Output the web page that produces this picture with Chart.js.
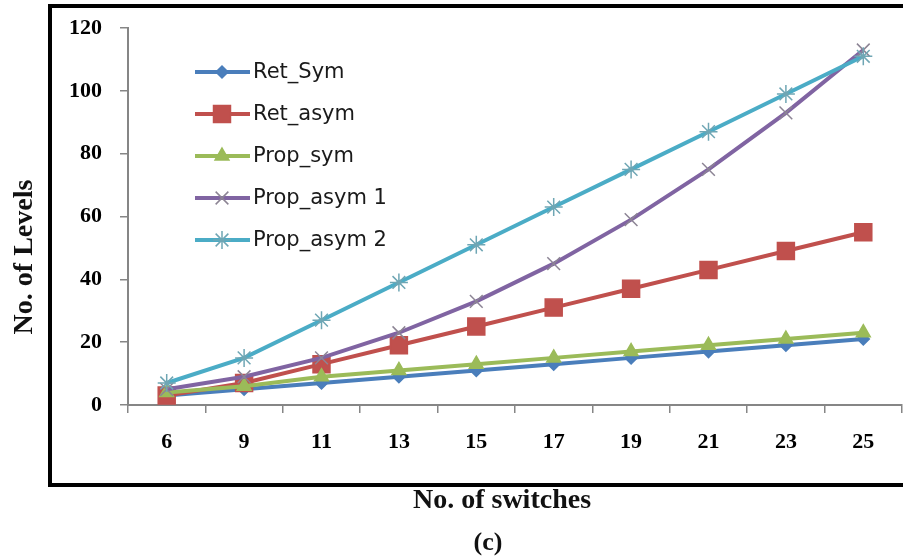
<!DOCTYPE html>
<html>
<head>
<meta charset="utf-8">
<script src="https://cdn.jsdelivr.net/npm/chart.js@4.4.1/dist/chart.umd.min.js"></script>
<style>
  html, body { margin: 0; padding: 0; background: #fff; }
  #wrap { width: 903px; height: 558px; }
</style>
</head>
<body>
<div id="wrap"><canvas id="myChart" width="903" height="558"></canvas></div>
<script>
const switches = ["6", "9", "11", "13", "15", "17", "19", "21", "23", "25"];

const retSym = [3, 5, 7, 9, 11, 13, 15, 17, 19, 21];
const retAsym = [3, 7, 13, 19, 25, 31, 37, 43, 49, 55];
const propSym = [4, 6, 9, 11, 13, 15, 17, 19, 21, 23];
const propAsym1 = [5, 9, 15, 23, 33, 45, 59, 75, 93, 113];
const propAsym2 = [7, 15, 27, 39, 51, 63, 75, 87, 99, 111];

const yTicks = [0, 20, 40, 60, 80, 100, 120];

const serif = '"Liberation Serif", "Times New Roman", serif';

function series(label, values, color, style, radius, pointColor, order) {
  return {
    label: label,
    data: values,
    borderColor: color,
    backgroundColor: color,
    borderWidth: 4,
    pointStyle: style,
    pointRadius: radius,
    pointHoverRadius: radius,
    pointBackgroundColor: pointColor,
    pointBorderColor: pointColor,
    pointBorderWidth: 1.5,
    tension: 0,
    order: order,
    clip: false,
  };
}

const data = {
  labels: switches,
  datasets: [
    series("Ret_Sym", retSym, "#4a7ebb", "rectRot", 6, "#4a7ebb", 5),
    series("Ret_asym", retAsym, "#c0504d", "rect", 12, "#c0504d", 4),
    series("Prop_sym", propSym, "#9bbb59", "triangle", 8, "#9bbb59", 3),
    series("Prop_asym 1", propAsym1, "#8064a2", "crossRot", 9, "#8c8494", 2),
    series("Prop_asym 2", propAsym2, "#4bacc6", "star", 9, "#6fa6b4", 1),
  ],
};

// frame, axis titles, caption and the legend inside the plot
const decorations = {
  id: "decorations",
  afterDraw(chart) {
    const ctx = chart.ctx;
    ctx.save();

    ctx.strokeStyle = "#000";
    ctx.lineWidth = 4;
    ctx.strokeRect(50, 6, 920, 479);

    ctx.fillStyle = "#111";
    ctx.textAlign = "center";
    ctx.textBaseline = "middle";
    ctx.font = "bold 28px " + serif;
    ctx.fillText("No. of switches", 502, 501);
    ctx.font = "bold 26px " + serif;
    ctx.fillText("(c)", 488, 543);

    ctx.save();
    ctx.translate(25, 257);
    ctx.rotate(-Math.PI / 2);
    ctx.font = "bold 28px " + serif;
    ctx.fillText("No. of Levels", 0, 0);
    ctx.restore();

    ctx.textAlign = "left";
    ctx.font = '21px "DejaVu Sans", sans-serif';
    chart.data.datasets.forEach((ds, i) => {
      const y = 72 + i * 42;
      ctx.strokeStyle = ds.borderColor;
      ctx.lineWidth = 4;
      ctx.beginPath();
      ctx.moveTo(195, y);
      ctx.lineTo(250, y);
      ctx.stroke();
      ctx.fillStyle = ds.pointBackgroundColor;
      ctx.strokeStyle = ds.pointBorderColor;
      ctx.lineWidth = ds.pointBorderWidth;
      Chart.helpers.drawPoint(ctx, {
        pointStyle: ds.pointStyle,
        radius: ds.pointRadius,
        rotation: 0,
        borderWidth: ds.pointBorderWidth,
      }, 222, y);
      ctx.fillStyle = "#1a1a1a";
      ctx.fillText(ds.label, 253, y + 1);
    });

    ctx.restore();
  },
};

const config = {
  type: "line",
  data,
  options: {
    responsive: false,
    animation: false,
    layout: { autoPadding: false, padding: { top: 28, right: 1, bottom: 0, left: 0 } },
    plugins: {
      legend: { display: false },
      tooltip: { enabled: false },
    },
    scales: {
      x: {
        offset: true,
        grid: {
          offset: true,
          drawOnChartArea: false,
          drawTicks: true,
          tickLength: 8,
          color: "#868686",
          lineWidth: 1.5,
        },
        border: { display: true, color: "#868686", width: 2 },
        ticks: {
          padding: 16,
          color: "#000",
          font: { family: serif, size: 22, weight: "bold" },
          maxRotation: 0,
        },
        afterFit(scale) {
          scale.height = 153;
          scale.paddingRight = 0;
        },
      },
      y: {
        min: 0,
        max: 120,
        afterBuildTicks(scale) { scale.ticks = yTicks.map((v) => ({ value: v })); },
        grid: {
          drawOnChartArea: false,
          drawTicks: true,
          tickLength: 8,
          color: "#868686",
          lineWidth: 1.5,
        },
        border: { display: true, color: "#868686", width: 2 },
        ticks: {
          padding: 18,
          color: "#000",
          font: { family: serif, size: 22, weight: "bold" },
        },
        afterFit(scale) {
          scale.width = 128;
          scale.paddingTop = 0;
        },
      },
    },
  },
  plugins: [decorations],
};

const myChart = new Chart(document.getElementById("myChart"), config);
</script>
</body>
</html>
